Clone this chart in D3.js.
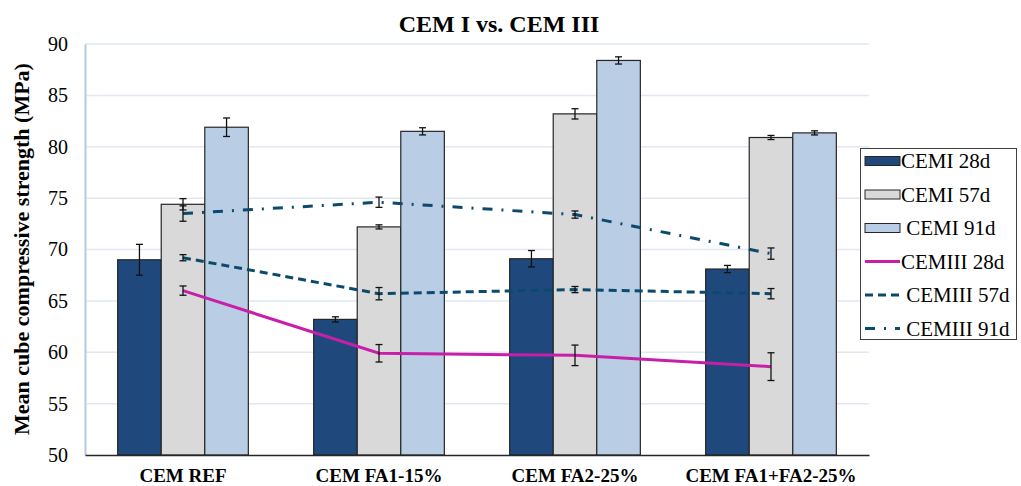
<!DOCTYPE html>
<html>
<head>
<meta charset="utf-8">
<script src="https://cdn.jsdelivr.net/npm/d3@7"></script>
<style>
  html, body { margin: 0; padding: 0; background: #fff; }
  svg { display: block; font-family: "Liberation Serif", "Times New Roman", serif; }
  .legend text { white-space: pre; }
</style>
</head>
<body>
<svg id="chart" width="1021" height="486"></svg>
<script>
// Mixes and strength tests (MPa)
const categories = ["CEM REF", "CEM FA1-15%", "CEM FA2-25%", "CEM FA1+FA2-25%"];

const cemI28 = [69.0, 63.2, 69.1, 68.1];
const cemI57 = [74.4, 72.2, 83.2, 80.9];
const cemI91 = [81.9, 81.5, 88.4, 81.35];
const cemI28Err = [1.5, 0.25, 0.8, 0.35];
const cemI57Err = [0.55, 0.2, 0.5, 0.2];
const cemI91Err = [0.9, 0.35, 0.35, 0.2];

const cemIII28 = [66.0, 59.9, 59.7, 58.6];
const cemIII57 = [69.2, 65.7, 66.1, 65.7];
const cemIII91 = [73.5, 74.6, 73.4, 69.6];
const cemIII28Err = [0.45, 0.85, 1.0, 1.35];
const cemIII57Err = [0.3, 0.6, 0.3, 0.5];
const cemIII91Err = [0.75, 0.5, 0.35, 0.55];

const yTicks = [50, 55, 60, 65, 70, 75, 80, 85, 90];

const barSeries = [
  { name: "CEMI 28d", label: "CEMI 28d", values: cemI28, err: cemI28Err, color: "#1F497D" },
  { name: "CEMI 57d", label: "CEMI 57d", values: cemI57, err: cemI57Err, color: "#D9D9D9" },
  { name: "CEMI 91d", label: " CEMI 91d", values: cemI91, err: cemI91Err, color: "#B9CDE5" }
];
const lineSeries = [
  { name: "CEMIII 28d", label: "CEMIII 28d", values: cemIII28, err: cemIII28Err, color: "#C81FA9", dash: null },
  { name: "CEMIII 57d", label: " CEMIII 57d", values: cemIII57, err: cemIII57Err, color: "#0B4A6C", dash: "8,5" },
  { name: "CEMIII 91d", label: " CEMIII 91d", values: cemIII91, err: cemIII91Err, color: "#0B4A6C", dash: "10,9,2,9" }
];

const svg = d3.select("#chart");
const plot = { left: 85, right: 869, top: 44, bottom: 455 };

const x = d3.scaleBand().domain(categories).range([plot.left, plot.right]).padding(0);
// bars take 3 of 4.5 bar widths per category (150% gap)
const bw = x.bandwidth() / 4.5;
const xs = d3.scaleBand().domain(barSeries.map(s => s.name))
  .range([0.75 * bw, 3.75 * bw]).padding(0);
const y = d3.scaleLinear().domain([50, 90]).range([plot.bottom, plot.top]);

// gridlines
svg.append("g").selectAll("line").data(yTicks.slice(1)).join("line")
  .attr("x1", plot.left).attr("x2", plot.right)
  .attr("y1", d => y(d)).attr("y2", d => y(d))
  .attr("stroke", "#E1E8F2").attr("stroke-width", 1.5);

// y axis
const yAxis = d3.axisLeft(y).tickValues(yTicks).tickSize(0).tickPadding(17);
const gy = svg.append("g").attr("transform", `translate(${plot.left},0)`).call(yAxis);
gy.select(".domain").attr("stroke", "#B4C7E7").attr("stroke-width", 2);
gy.selectAll("text").attr("font-size", 20).attr("fill", "#000")
  .attr("font-family", "Liberation Serif");

// bars
const groups = svg.append("g").selectAll("g").data(barSeries).join("g");
groups.selectAll("rect").data(s => s.values.map((v, i) => ({ s, v, i }))).join("rect")
  .attr("x", d => x(categories[d.i]) + xs(d.s.name))
  .attr("width", xs.bandwidth())
  .attr("y", d => y(d.v))
  .attr("height", d => y(50) - y(d.v))
  .attr("fill", d => d.s.color)
  .attr("stroke", "#262626").attr("stroke-width", 1.2);

// x axis
const xAxis = d3.axisBottom(x).tickSize(0).tickPadding(14);
const gx = svg.append("g").attr("transform", `translate(0,${plot.bottom})`).call(xAxis);
gx.select(".domain").attr("stroke", "#262626").attr("stroke-width", 1.5);
gx.selectAll("text").attr("font-size", 19).attr("font-weight", "bold").attr("fill", "#000")
  .attr("font-family", "Liberation Serif");

// error bar helper
function errorBars(g, pts) {
  const cap = 3.5;
  const e = g.selectAll("g").data(pts).join("g")
    .attr("stroke", "#111").attr("stroke-width", 1.3);
  e.append("line").attr("x1", d => d.cx).attr("x2", d => d.cx)
    .attr("y1", d => y(d.v + d.e)).attr("y2", d => y(d.v - d.e));
  e.append("line").attr("x1", d => d.cx - cap).attr("x2", d => d.cx + cap)
    .attr("y1", d => y(d.v + d.e)).attr("y2", d => y(d.v + d.e));
  e.append("line").attr("x1", d => d.cx - cap).attr("x2", d => d.cx + cap)
    .attr("y1", d => y(d.v - d.e)).attr("y2", d => y(d.v - d.e));
}

barSeries.forEach(s => {
  errorBars(svg.append("g"), s.values.map((v, i) => ({
    cx: x(categories[i]) + xs(s.name) + xs.bandwidth() / 2, v, e: s.err[i]
  })));
});

// CEM III lines
const cx = c => x(c) + x.bandwidth() / 2;
const line = d3.line().x((d, i) => cx(categories[i])).y(d => y(d));
lineSeries.forEach(s => {
  svg.append("path").datum(s.values)
    .attr("d", line)
    .attr("fill", "none")
    .attr("stroke", s.color)
    .attr("stroke-width", 3)
    .attr("stroke-dasharray", s.dash);
  errorBars(svg.append("g"), s.values.map((v, i) => ({ cx: cx(categories[i]), v, e: s.err[i] })));
});

// title
svg.append("text").attr("x", 499).attr("y", 32)
  .attr("text-anchor", "middle").attr("font-size", 24).attr("font-weight", "bold")
  .text("CEM I vs. CEM III");

// y title
svg.append("text")
  .attr("transform", "translate(28.5,249) rotate(-90)")
  .attr("text-anchor", "middle").attr("font-size", 22).attr("font-weight", "bold")
  .text("Mean cube compressive strength (MPa)");

// legend
const lg = svg.append("g").attr("class", "legend");
lg.append("rect").attr("x", 860.5).attr("y", 148.5).attr("width", 156).attr("height", 191)
  .attr("fill", "#fff").attr("stroke", "#404040").attr("stroke-width", 1);
const rowY = i => 161 + i * 33.5;
barSeries.forEach((s, i) => {
  lg.append("rect").attr("x", 865).attr("y", rowY(i) - 4.5).attr("width", 35).attr("height", 9)
    .attr("fill", s.color).attr("stroke", "#262626").attr("stroke-width", 1);
  lg.append("text").attr("x", 901).attr("y", rowY(i) + 7).attr("font-size", 21).text(s.label);
});
lineSeries.forEach((s, j) => {
  const i = j + 3;
  lg.append("line").attr("x1", 865).attr("x2", 900).attr("y1", rowY(i)).attr("y2", rowY(i))
    .attr("stroke", s.color).attr("stroke-width", 3).attr("stroke-dasharray", s.dash);
  lg.append("text").attr("x", 901).attr("y", rowY(i) + 7).attr("font-size", 21).text(s.label);
});
</script>
</body>
</html>
